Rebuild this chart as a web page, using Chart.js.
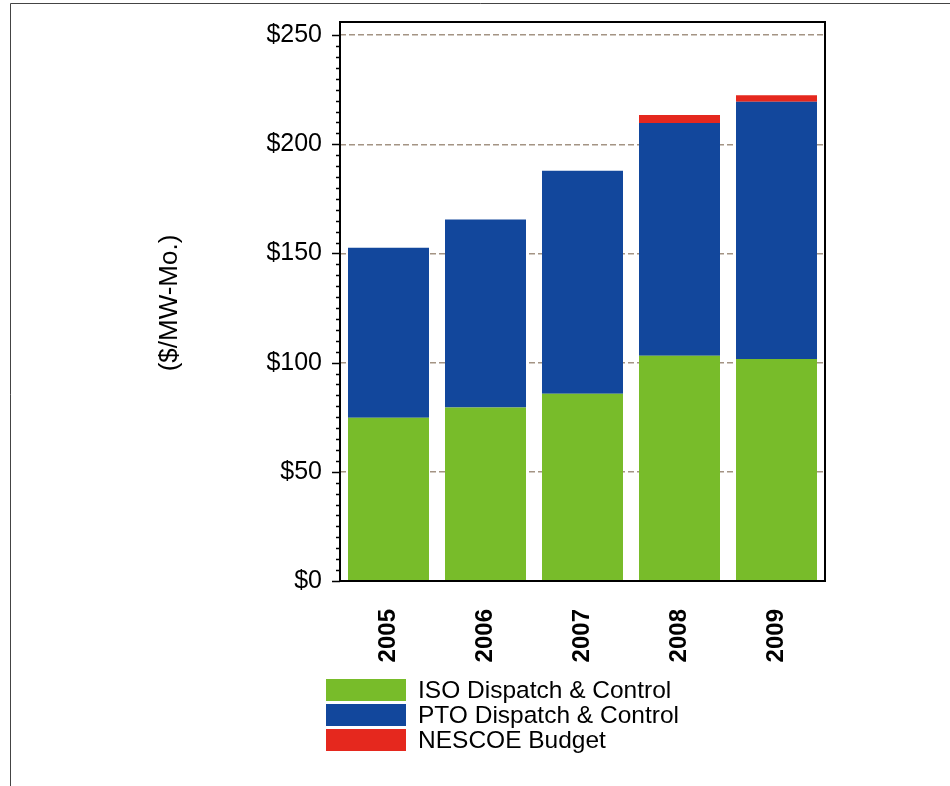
<!DOCTYPE html>
<html>
<head>
<meta charset="utf-8">
<script src="https://cdn.jsdelivr.net/npm/chart.js@4/dist/chart.umd.min.js"></script>
<style>
  html, body { margin: 0; padding: 0; background: #fff; }
  #wrap { width: 950px; height: 786px; position: relative; }
</style>
</head>
<body>
<div id="wrap"><canvas id="c" width="950" height="786"></canvas></div>
<script>
const categories = ['2005', '2006', '2007', '2008', '2009'];
const isoDispatch = [74.8, 79.4, 85.8, 103.1, 101.7];
const ptoDispatch = [77.8, 86.1, 102.1, 106.6, 117.8];
const nescoeBudget = [0, 0, 0, 3.7, 2.9];
const seriesNames = ['ISO Dispatch & Control', 'PTO Dispatch & Control', 'NESCOE Budget'];
const seriesColors = ['#78BC2A', '#12479C', '#E5281E'];
const yAxisTitle = '($/MW-Mo.)';
const yMin = 0, yMax = 256, yTopTick = 250, yMajor = 50, yMinor = 5;

const FONT = '"Liberation Sans", Arial, sans-serif';

const decor = {
  id: 'decor',
  beforeDraw(chart) {
    const ctx = chart.ctx;
    ctx.save();
    ctx.fillStyle = '#fff';
    ctx.fillRect(0, 0, chart.width, chart.height);
    ctx.restore();
  },
  afterDraw(chart) {
    const ctx = chart.ctx;
    const a = chart.chartArea;
    const y = chart.scales.y;
    ctx.save();
    // outer frame
    ctx.strokeStyle = '#444';
    ctx.lineWidth = 1;
    ctx.beginPath();
    ctx.moveTo(10.5, chart.height);
    ctx.lineTo(10.5, 3.5);
    ctx.lineTo(chart.width, 3.5);
    ctx.stroke();
    // plot border
    ctx.strokeStyle = '#000';
    ctx.lineWidth = 2;
    ctx.strokeRect(a.left, a.top, a.right - a.left, a.bottom - a.top);
    // y ticks (major + minor), outward
    ctx.lineWidth = 1.5;
    ctx.beginPath();
    for (let v = yMin; v <= yTopTick + 1e-9; v += yMinor) {
      const p = Math.round(y.getPixelForValue(v)) + 0.5;
      const len = (Math.round(v) % yMajor === 0) ? 8 : 4;
      ctx.moveTo(a.left - len, p);
      ctx.lineTo(a.left, p);
    }
    ctx.stroke();
    // y axis title
    ctx.fillStyle = '#000';
    ctx.font = '26px ' + FONT;
    ctx.textAlign = 'center';
    ctx.textBaseline = 'middle';
    ctx.translate(170, 303);
    ctx.rotate(-Math.PI / 2);
    ctx.fillText(yAxisTitle, 0, 0);
    ctx.restore();
    // legend
    ctx.save();
    ctx.font = '24.5px ' + FONT;
    ctx.textAlign = 'left';
    ctx.textBaseline = 'middle';
    chart.data.datasets.forEach((ds, i) => {
      const top = 679 + i * 25;
      ctx.fillStyle = ds.backgroundColor;
      ctx.fillRect(326, top, 80, 22);
      ctx.fillStyle = '#000';
      ctx.fillText(ds.label, 418, top + 12);
    });
    ctx.restore();
  }
};

new Chart(document.getElementById('c'), {
  type: 'bar',
  data: {
    labels: categories,
    datasets: [
      { label: seriesNames[0], data: isoDispatch, backgroundColor: seriesColors[0] },
      { label: seriesNames[1], data: ptoDispatch, backgroundColor: seriesColors[1] },
      { label: seriesNames[2], data: nescoeBudget, backgroundColor: seriesColors[2] }
    ]
  },
  options: {
    responsive: false,
    animation: false,
    layout: { padding: { top: 22, right: 125, bottom: 0, left: 0 } },
    plugins: { legend: { display: false }, tooltip: { enabled: false } },
    datasets: { bar: { barPercentage: 0.835, categoryPercentage: 1.0, borderWidth: 0 } },
    scales: {
      x: {
        stacked: true,
        grid: { display: false, drawTicks: false },
        border: { display: false },
        ticks: {
          color: '#000',
          font: { family: FONT, size: 24, weight: 'bold' },
          minRotation: 90, maxRotation: 90,
          padding: 28
        },
        afterFit(s) { s.height = 205; s.paddingLeft = 0; s.paddingRight = 0; }
      },
      y: {
        stacked: true,
        min: yMin, max: yMax,
        grid: {
          drawTicks: false,
          color: (c) => (c.tick && Math.round(c.tick.value) % yMajor === 0 && c.tick.value > yMin && c.tick.value <= yTopTick) ? '#A49484' : 'rgba(0,0,0,0)',
          lineWidth: 1.5
        },
        border: { display: false, dash: [6, 3] },
        ticks: {
          stepSize: yMinor,
          autoSkip: false,
          color: '#000',
          font: { family: FONT, size: 25 },
          padding: 18,
          callback: (v) => (Math.round(v) % yMajor === 0 && v <= yTopTick ? '$' + v : '')
        },
        afterFit(s) { s.width = 340; s.paddingTop = 0; s.paddingBottom = 0; }
      }
    }
  },
  plugins: [decor]
});
</script>
</body>
</html>
